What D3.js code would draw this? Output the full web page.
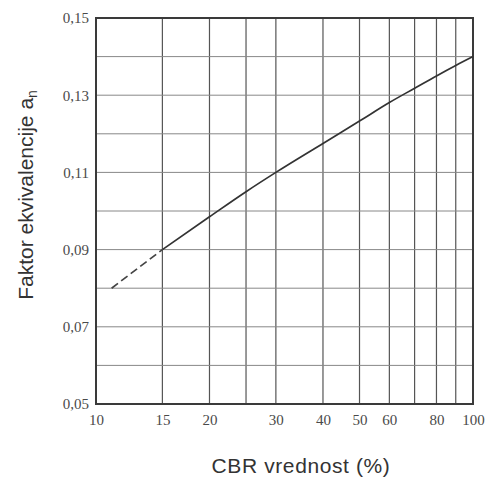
<!DOCTYPE html>
<html>
<head>
<meta charset="utf-8">
<script src="https://cdn.jsdelivr.net/npm/d3@7"></script>
<style>
  body { margin: 0; background: #fff; }
  svg { display: block; }
</style>
</head>
<body>
<svg id="chart"></svg>
<script>
// CBR value (%) vs equivalence factor a_n
var cbr = [11, 15, 20, 25, 30, 40, 50, 60, 70, 80, 90, 100];
var factor = [0.080, 0.090, 0.0985, 0.105, 0.110, 0.1175, 0.1233, 0.1281, 0.1318, 0.1350, 0.1377, 0.1400];
var dashedUpTo = 15; // extrapolated part below CBR 15

var xTicks = [10, 15, 20, 30, 40, 50, 60, 80, 100];
var xGrid = [15, 20, 25, 30, 40, 50, 60, 70, 80, 90];
var yTicks = [0.05, 0.07, 0.09, 0.11, 0.13, 0.15];
var yGrid = [0.06, 0.07, 0.08, 0.09, 0.10, 0.11, 0.12, 0.13, 0.14];

var svgWidth = 486, svgHeight = 484;
var margin = { top: 18, right: 13, bottom: 80, left: 96 };
var width = svgWidth - margin.left - margin.right;
var height = svgHeight - margin.top - margin.bottom;

var svg = d3.select("#chart")
    .attr("width", svgWidth)
    .attr("height", svgHeight);

var g = svg.append("g")
    .attr("transform", "translate(" + margin.left + "," + margin.top + ")");

var x = d3.scaleLog().domain([10, 100]).range([0, width]);
var y = d3.scaleLinear().domain([0.05, 0.15]).range([height, 0]);

// grid
g.selectAll(".vgrid").data(xGrid).enter().append("line")
    .attr("x1", function(d) { return x(d); })
    .attr("x2", function(d) { return x(d); })
    .attr("y1", 0).attr("y2", height)
    .attr("stroke", "#555").attr("stroke-width", 1.2);

g.selectAll(".hgrid").data(yGrid).enter().append("line")
    .attr("x1", 0).attr("x2", width)
    .attr("y1", function(d) { return y(d); })
    .attr("y2", function(d) { return y(d); })
    .attr("stroke", "#888").attr("stroke-width", 1);

// frame
g.append("rect")
    .attr("width", width).attr("height", height)
    .attr("fill", "none").attr("stroke", "#3a3a3a").attr("stroke-width", 2);

// axes
var xAxis = g.append("g")
    .attr("transform", "translate(0," + height + ")")
    .call(d3.axisBottom(x).tickValues(xTicks).tickFormat(d3.format("d")).tickSize(0).tickPadding(10));

var yAxis = g.append("g")
    .call(d3.axisLeft(y).tickValues(yTicks)
        .tickFormat(function(d) { return d.toFixed(2).replace(".", ","); })
        .tickSize(0).tickPadding(7));

[xAxis, yAxis].forEach(function(a) {
  a.select(".domain").remove();
  a.selectAll("text")
      .attr("fill", "#4a4a4a")
      .style("font-family", "'Liberation Serif', 'DejaVu Serif', serif")
      .style("font-size", "15px");
});

// curve
var data = cbr.map(function(c, i) { return { cbr: c, value: factor[i] }; });
var line = d3.line()
    .curve(d3.curveMonotoneX)
    .x(function(d) { return x(d.cbr); })
    .y(function(d) { return y(d.value); });

g.append("path")
    .datum(data.filter(function(d) { return d.cbr <= dashedUpTo; }))
    .attr("fill", "none").attr("stroke", "#444").attr("stroke-width", 1.7)
    .attr("stroke-dasharray", "8,4")
    .attr("d", line);

g.append("path")
    .datum(data.filter(function(d) { return d.cbr >= dashedUpTo; }))
    .attr("fill", "none").attr("stroke", "#333").attr("stroke-width", 1.7)
    .attr("d", line);

// titles
svg.append("text")
    .attr("x", 301).attr("y", 473)
    .attr("text-anchor", "middle")
    .attr("fill", "#333")
    .style("font-family", "'Liberation Sans', Arial, sans-serif")
    .style("font-size", "21px")
    .style("letter-spacing", "0.6px")
    .text("CBR vrednost (%)");

var yTitle = svg.append("text")
    .attr("transform", "translate(33,195) rotate(-90)")
    .attr("text-anchor", "middle")
    .attr("fill", "#333")
    .style("font-family", "'Liberation Sans', Arial, sans-serif")
    .style("font-size", "21px");
yTitle.append("tspan").text("Faktor ekvivalencije a");
yTitle.append("tspan").attr("dy", 4).style("font-size", "14px").text("n");
</script>
</body>
</html>
